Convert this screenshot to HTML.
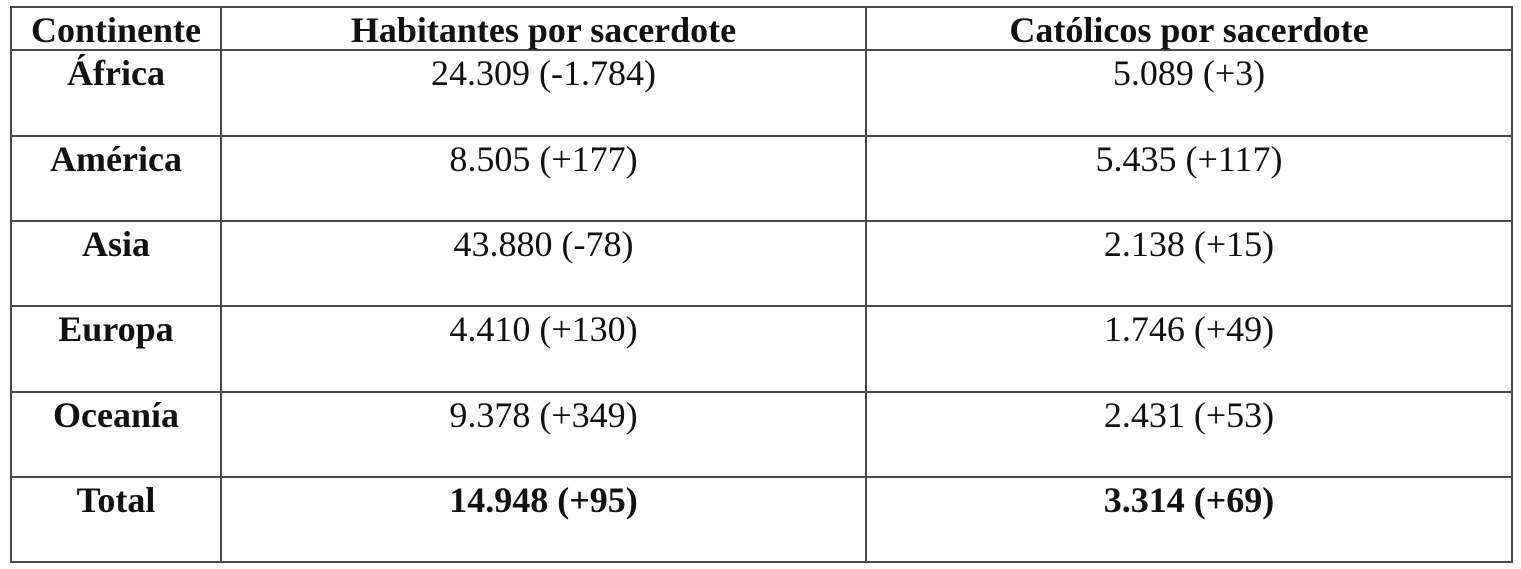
<!DOCTYPE html>
<html>
<head>
<meta charset="utf-8">
<style>
  html, body { margin:0; padding:0; background:#fff; }
  body { width:1521px; height:569px; position:relative; overflow:hidden;
         font-family:"Liberation Serif", "DejaVu Serif", serif; color:#111; }
  .h { position:absolute; height:2px; background:#4a4a4a; left:10px; width:1503px; }
  .v { position:absolute; width:2px; background:#4a4a4a; top:6px; height:557px; }
  .t { position:absolute; font-size:36px; line-height:36px; text-align:center; white-space:nowrap; }
  .c1 { left:12px; width:208px; }
  .c2 { left:222px; width:643px; }
  .c3 { left:867px; width:644px; }
  .b { font-weight:bold; }
</style>
</head>
<body>
  <div class="h" style="top:6px"></div>
  <div class="h" style="top:49px"></div>
  <div class="h" style="top:135px"></div>
  <div class="h" style="top:220px"></div>
  <div class="h" style="top:305px"></div>
  <div class="h" style="top:391px"></div>
  <div class="h" style="top:476px"></div>
  <div class="h" style="top:561px"></div>

  <div class="v" style="left:10px"></div>
  <div class="v" style="left:220px"></div>
  <div class="v" style="left:865px"></div>
  <div class="v" style="left:1511px"></div>

  <div class="t c1 b" style="top:12px">Continente</div>
  <div class="t c2 b" style="top:12px">Habitantes por sacerdote</div>
  <div class="t c3 b" style="top:12px">Católicos por sacerdote</div>

  <div class="t c1 b" style="top:55px">África</div>
  <div class="t c2" style="top:55px">24.309 (-1.784)</div>
  <div class="t c3" style="top:55px">5.089 (+3)</div>

  <div class="t c1 b" style="top:141px">América</div>
  <div class="t c2" style="top:141px">8.505 (+177)</div>
  <div class="t c3" style="top:141px">5.435 (+117)</div>

  <div class="t c1 b" style="top:226px">Asia</div>
  <div class="t c2" style="top:226px">43.880 (-78)</div>
  <div class="t c3" style="top:226px">2.138 (+15)</div>

  <div class="t c1 b" style="top:311px">Europa</div>
  <div class="t c2" style="top:311px">4.410 (+130)</div>
  <div class="t c3" style="top:311px">1.746 (+49)</div>

  <div class="t c1 b" style="top:397px">Oceanía</div>
  <div class="t c2" style="top:397px">9.378 (+349)</div>
  <div class="t c3" style="top:397px">2.431 (+53)</div>

  <div class="t c1 b" style="top:482px">Total</div>
  <div class="t c2 b" style="top:482px">14.948 (+95)</div>
  <div class="t c3 b" style="top:482px">3.314 (+69)</div>
</body>
</html>
